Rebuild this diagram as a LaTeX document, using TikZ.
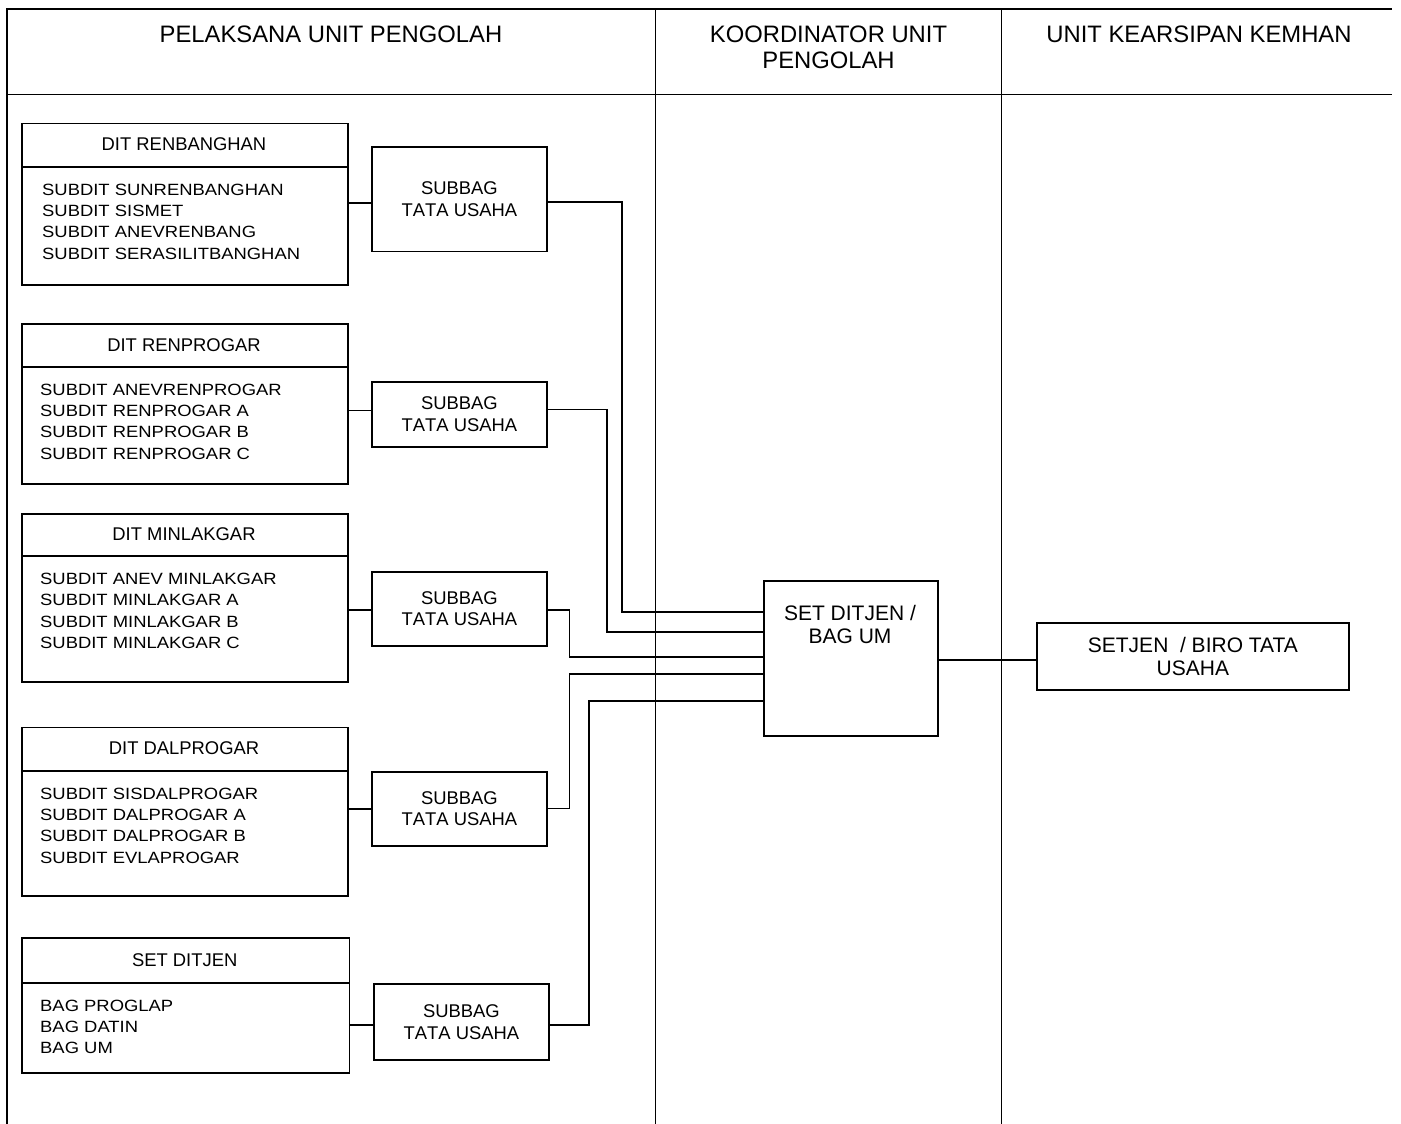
\documentclass[tikz,border=0pt]{standalone}
\usepackage{fontspec}
\setmainfont{Liberation Sans}
\newfontfamily\listfont[FakeStretch=1.13]{Liberation Sans}
\newfontfamily\subfont[Kerning=Off]{Liberation Sans}
\begin{document}
\begin{tikzpicture}[x=1pt,y=-1pt,
  frame/.style={line width=1.8pt},
  conn/.style={line width=1.8pt},
  box/.style={draw, line width=1.8pt, anchor=north west, inner sep=0pt},
  hdr/.style={font=\fontsize{23.8}{26}\selectfont, align=center, anchor=north, inner sep=0pt},
  ttl/.style={font=\fontsize{18.4}{21}\selectfont, inner sep=0pt},
  lst/.style={font=\listfont\fontsize{16.3}{21.4}\selectfont, align=left, anchor=north west, inner sep=0pt},
  sub/.style={font=\subfont\fontsize{18.4}{21.7}\selectfont, align=center},
  big/.style={font=\fontsize{21}{23.5}\selectfont, align=center}
]
\useasboundingbox (0,0) rectangle (1401,1124);
\fill[white] (0,0) rectangle (1401,1124);

% table frame
\draw[frame] (7,1124) -- (7,9) -- (1392,9);
\draw[frame] (7,94.5) -- (1392,94.5);
\draw[frame] (655.5,9) -- (655.5,1124);
\draw[frame] (1001.5,9) -- (1001.5,1124);

\node[hdr] (h1) at (331,25.5) {PELAKSANA UNIT PENGOLAH};
\node[hdr] (h2) at (828.5,25.5) {KOORDINATOR UNIT\\PENGOLAH};
\node[hdr] (h3) at (1199,25.5) {UNIT KEARSIPAN KEMHAN};

% DIT boxes
\node[box, minimum width=326pt, minimum height=161.5pt] (d1) at (21,122.5) {};
\draw[conn] (d1.west |- 0,166.7) -- (d1.east |- 0,166.7);
\node[ttl] (d1t) at (184,144.6) {DIT RENBANGHAN};
\node[lst] (d1l) at (42,183.6) {SUBDIT SUNRENBANGHAN\\SUBDIT SISMET\\SUBDIT ANEVRENBANG\\SUBDIT SERASILITBANGHAN};

\node[box, minimum width=326pt, minimum height=160pt] (d2) at (21,322.7) {};
\draw[conn] (d2.west |- 0,366.7) -- (d2.east |- 0,366.7);
\node[ttl] (d2t) at (184,344.7) {DIT RENPROGAR};
\node[lst] (d2l) at (40,383.6) {SUBDIT ANEVRENPROGAR\\SUBDIT RENPROGAR A\\SUBDIT RENPROGAR B\\SUBDIT RENPROGAR C};

\node[box, minimum width=326pt, minimum height=168.3pt] (d3) at (21,512.7) {};
\draw[conn] (d3.west |- 0,556) -- (d3.east |- 0,556);
\node[ttl] (d3t) at (184,534.4) {DIT MINLAKGAR};
\node[lst] (d3l) at (40,572.9) {SUBDIT ANEV MINLAKGAR\\SUBDIT MINLAKGAR A\\SUBDIT MINLAKGAR B\\SUBDIT MINLAKGAR C};

\node[box, minimum width=326pt, minimum height=168.5pt] (d4) at (21,726.5) {};
\draw[conn] (d4.west |- 0,770.7) -- (d4.east |- 0,770.7);
\node[ttl] (d4t) at (184,748.6) {DIT DALPROGAR};
\node[lst] (d4l) at (40,787.6) {SUBDIT SISDALPROGAR\\SUBDIT DALPROGAR A\\SUBDIT DALPROGAR B\\SUBDIT EVLAPROGAR};

\node[box, minimum width=327.5pt, minimum height=135pt] (d5) at (21,936.7) {};
\draw[conn] (d5.west |- 0,982.7) -- (d5.east |- 0,982.7);
\node[ttl] (d5t) at (184.7,959.7) {SET DITJEN};
\node[lst] (d5l) at (40,999.6) {BAG PROGLAP\\BAG DATIN\\BAG UM};

% SUBBAG boxes
\node[box, sub, minimum width=175pt, minimum height=104.5pt] (s1) at (371,146) {SUBBAG\\TATA USAHA};
\node[box, sub, minimum width=175pt, minimum height=65.3pt] (s2) at (371,380.7) {SUBBAG\\TATA USAHA};
\node[box, sub, minimum width=175pt, minimum height=74.3pt] (s3) at (371,570.7) {SUBBAG\\TATA USAHA};
\node[box, sub, minimum width=175pt, minimum height=74.3pt] (s4) at (371,770.7) {SUBBAG\\TATA USAHA};
\node[box, sub, minimum width=175pt, minimum height=76pt] (s5) at (373,983.3) {SUBBAG\\TATA USAHA};

% coordinator and archive boxes
\node[box, minimum width=174pt, minimum height=155pt] (k) at (763,580) {};
\node[big, anchor=north, inner sep=0pt] (kt) at (850,605) {SET DITJEN /\\BAG UM};
\node[box, big, minimum width=312pt, minimum height=67.3pt] (b) at (1036,621.7) {SETJEN \ / BIRO TATA\\USAHA};

% connectors
\draw[conn] (d1.east |- 0,203) -- (s1.west |- 0,203);
\draw[conn] (d2.east |- 0,410.5) -- (s2.west |- 0,410.5);
\draw[conn] (d3.east |- 0,610) -- (s3.west |- 0,610);
\draw[conn] (d4.east |- 0,809) -- (s4.west |- 0,809);
\draw[conn] (d5.east |- 0,1025) -- (s5.west |- 0,1025);

\draw[conn] (s1.east |- 0,202) -| (622,611.7) -- (k.west |- 0,611.7);
\draw[conn] (s2.east |- 0,409.5) -| (607,632) -- (k.west |- 0,632);
\draw[conn] (s3.east |- 0,610) -| (569.5,656.7) -- (k.west |- 0,656.7);
\draw[conn] (s4.east |- 0,808.5) -| (569.5,674) -- (k.west |- 0,674);
\draw[conn] (s5.east |- 0,1025) -| (589.3,700.7) -- (k.west |- 0,700.7);
\draw[conn] (k.east |- 0,660) -- (b.west |- 0,660);
\end{tikzpicture}
\end{document}
